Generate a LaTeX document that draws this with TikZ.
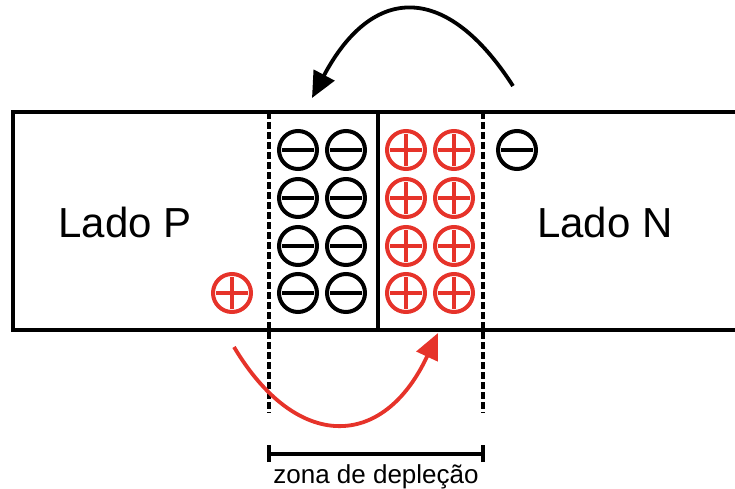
\documentclass[tikz,border=0pt]{standalone}
\usepackage{fontspec}
\setmainfont{Liberation Sans}
\usetikzlibrary{arrows.meta}
\definecolor{chargered}{HTML}{E6332A}
\tikzset{
  x=1pt, y=1pt,
  frame/.style={line width=4pt, line join=miter},
  zoneline/.style={line width=3.5pt, dash pattern=on 7pt off 3pt},
  junction/.style={line width=3.5pt},
  charge/.style={circle, draw, line width=4pt, minimum size=38pt, inner sep=0pt},
  negion/.style={charge, draw=black, path picture={
      \draw[line width=4pt, black]
        ([xshift=-16pt]path picture bounding box.center) --
        ([xshift=16pt]path picture bounding box.center);}},
  posion/.style={charge, draw=chargered, path picture={
      \draw[line width=4pt, chargered]
        ([xshift=-16pt]path picture bounding box.center) --
        ([xshift=16pt]path picture bounding box.center)
        ([yshift=-16pt]path picture bounding box.center) --
        ([yshift=16pt]path picture bounding box.center);}},
  sidelabel/.style={font=\fontsize{42}{46}\selectfont, anchor=base, inner sep=0pt},
  zonelabel/.style={font=\fontsize{26}{28}\selectfont, anchor=base, inner sep=0pt},
  flow/.style={line width=3.8pt, -{Triangle[length=26pt,width=23pt]}},
}
\begin{document}
\begin{tikzpicture}
\useasboundingbox (0,0) rectangle (735,488);

% semiconductor bar, open on the right
\draw[frame] (737,376) -- (13,376) -- (13,158) -- (737,158);

% depletion zone boundaries and the metallurgical junction
\coordinate (dlt) at (269,376); \coordinate (dlb) at (269,75);
\coordinate (drt) at (483,376); \coordinate (drb) at (483,75);
\coordinate (jt) at (378,376);  \coordinate (jb) at (378,158);
\draw[zoneline] (dlt) -- (dlb);
\draw[zoneline] (drt) -- (drb);
\draw[junction] (jt) -- (jb);

% side labels
\node[sidelabel] (ladoP) at (125,251) {Lado P};
\node[sidelabel] (ladoN) at (605,251) {Lado N};

% fixed ions in the depletion zone
\foreach \r/\yy in {1/338,2/290,3/242,4/195}{
  \node[negion] (n1\r) at (298,\yy) {};
  \node[negion] (n2\r) at (346,\yy) {};
  \node[posion] (p1\r) at (406,\yy) {};
  \node[posion] (p2\r) at (454,\yy) {};
}

% free carriers
\node[posion] (hole) at (232,195) {};
\node[negion] (electron) at (517,338) {};

% drift of carriers across the junction
\coordinate (es) at (513,402);
\coordinate (ee) at (312,390);
\draw[flow, black] (es) .. controls (447,505) and (373,505) .. (ee);

\coordinate (hs) at (234,141);
\coordinate (he) at (438,155);
\draw[flow, chargered] (hs) .. controls (296,37) and (383,37) .. (he);

% width of the depletion zone
\coordinate (bl) at (269,34); \coordinate (br) at (483,34);
\draw[line width=3.8pt] (bl) -- (br);
\draw[line width=3.8pt] ([yshift=-8pt]bl) -- ([yshift=9pt]bl);
\draw[line width=3.8pt] ([yshift=-8pt]br) -- ([yshift=9pt]br);
\node[zonelabel] (zona) at (376,5) {zona de depleção};
\end{tikzpicture}
\end{document}
